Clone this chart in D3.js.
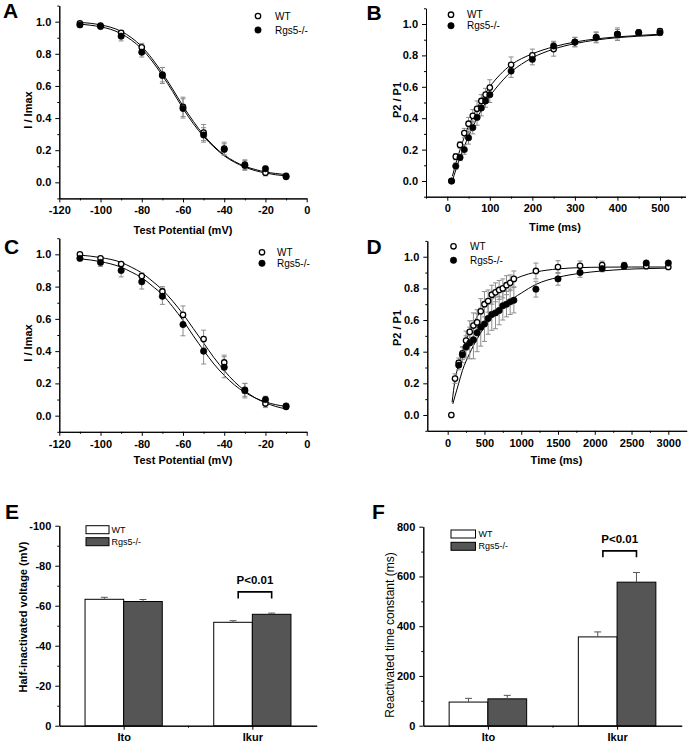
<!DOCTYPE html>
<html><head><meta charset="utf-8">
<script src="https://cdn.jsdelivr.net/npm/d3@7"></script>
<style>body{margin:0;background:#fff} svg text{font-family:"Liberation Sans",Arial,sans-serif;fill:#000}</style>
</head><body><svg id="c" width="689" height="745"></svg>
<script>
// ---------- DATA ----------
const seriesNames = ["WT", "Rgs5-/-"];
// Panel A (Ito steady-state inactivation)
const voltages = [-110,-100,-90,-80,-70,-60,-50,-40,-30,-20,-10];
const aWT    = [0.99,0.975,0.93,0.84,0.67,0.47,0.31,0.21,0.11,0.06,0.04];
const aWTerr = [0.01,0.01,0.015,0.025,0.045,0.06,0.05,0.04,0.03,0.02,0.01];
const aKO    = [0.98,0.97,0.91,0.81,0.665,0.46,0.295,0.205,0.105,0.085,0.035];
const aKOerr = [0.01,0.01,0.03,0.03,0.05,0.06,0.045,0.035,0.03,0.015,0.01];
const aFitWT = [[-110,0.995],[-105,0.99],[-100,0.98],[-95,0.965],[-90,0.94],[-85,0.9],[-80,0.845],[-75,0.77],[-70,0.68],[-65,0.58],[-60,0.475],[-55,0.38],[-50,0.295],[-45,0.225],[-40,0.17],[-35,0.13],[-30,0.1],[-25,0.08],[-20,0.065],[-15,0.055],[-10,0.048]];
const aFitKO = [[-110,0.985],[-105,0.978],[-100,0.968],[-95,0.952],[-90,0.925],[-85,0.885],[-80,0.83],[-75,0.755],[-70,0.665],[-65,0.565],[-60,0.46],[-55,0.365],[-50,0.285],[-45,0.22],[-40,0.165],[-35,0.125],[-30,0.095],[-25,0.073],[-20,0.058],[-15,0.047],[-10,0.04]];
// Panel B (Ito recovery)
const bTimes = [10,20,30,40,50,60,70,80,90,100,150,200,250,300,350,400,450,500];
const bWT    = [0.0,0.155,0.23,0.305,0.365,0.415,0.46,0.51,0.55,0.595,0.74,0.8,0.84,0.885,0.915,0.935,0.945,0.955];
const bWTerr = [0.01,0.02,0.02,0.03,0.04,0.04,0.05,0.04,0.04,0.05,0.05,0.04,0.045,0.03,0.03,0.04,0.02,0.015];
const bKO    = [0.0,0.095,0.15,0.2,0.275,0.34,0.405,0.465,0.51,0.55,0.7,0.775,0.86,0.885,0.915,0.935,0.945,0.945];
const bKOerr = [0.01,0.02,0.02,0.03,0.04,0.04,0.05,0.05,0.04,0.05,0.04,0.035,0.03,0.03,0.035,0.03,0.015,0.015];
const bFitWT = [[12,0.03],[20,0.11],[30,0.2],[40,0.28],[50,0.35],[60,0.41],[70,0.465],[80,0.515],[90,0.56],[100,0.6],[125,0.68],[150,0.74],[175,0.78],[200,0.81],[250,0.855],[300,0.885],[350,0.905],[400,0.918],[450,0.927],[500,0.935]];
const bFitKO = [[12,0.0],[20,0.07],[30,0.15],[40,0.22],[50,0.285],[60,0.345],[70,0.4],[80,0.45],[90,0.5],[100,0.54],[125,0.625],[150,0.695],[175,0.745],[200,0.785],[250,0.84],[300,0.875],[350,0.898],[400,0.913],[450,0.922],[500,0.93]];
// Panel C (Ikur steady-state inactivation)
const cWT    = [1.0,0.975,0.94,0.865,0.77,0.625,0.475,0.33,0.16,0.075,0.055];
const cWTerr = [0.01,0.01,0.01,0.02,0.03,0.055,0.055,0.045,0.04,0.025,0.015];
const cKO    = [0.975,0.95,0.9,0.83,0.74,0.565,0.4,0.3,0.155,0.1,0.06];
const cKOerr = [0.015,0.025,0.04,0.045,0.05,0.07,0.08,0.065,0.045,0.02,0.01];
const cFitWT = [[-110,0.995],[-100,0.98],[-90,0.95],[-85,0.92],[-80,0.885],[-75,0.835],[-70,0.78],[-65,0.71],[-60,0.63],[-55,0.54],[-50,0.45],[-45,0.36],[-40,0.28],[-35,0.21],[-30,0.155],[-25,0.11],[-20,0.08],[-15,0.057],[-10,0.042]];
const cFitKO = [[-110,0.972],[-100,0.955],[-90,0.92],[-85,0.89],[-80,0.855],[-75,0.805],[-70,0.75],[-65,0.675],[-60,0.59],[-55,0.495],[-50,0.405],[-45,0.32],[-40,0.25],[-35,0.19],[-30,0.145],[-25,0.11],[-20,0.085],[-15,0.068],[-10,0.057]];
// Panel D (Ikur recovery)
const dWTt   = [50,100,150,200,250,300,350,400,450,500,550,600,650,700,750,800,850,900,1200,1500,1800,2100,2400,2700,3000];
const dWT    = [0.0,0.23,0.33,0.39,0.47,0.525,0.565,0.585,0.655,0.7,0.72,0.76,0.775,0.79,0.8,0.82,0.835,0.86,0.91,0.935,0.943,0.947,0.945,0.94,0.935];
const dWTerr = [0,0.03,0.03,0.04,0.06,0.07,0.08,0.08,0.08,0.08,0.07,0.06,0.06,0.06,0.06,0.06,0.05,0.05,0.05,0.04,0.03,0.025,0.02,0.015,0.01];
const dKOt   = [150,200,250,300,350,400,450,500,550,600,650,700,750,800,850,900,1200,1500,1800,2100,2400,2700,3000];
const dKO    = [0.315,0.38,0.43,0.455,0.475,0.52,0.555,0.575,0.61,0.635,0.645,0.66,0.69,0.7,0.715,0.725,0.795,0.86,0.9,0.925,0.94,0.96,0.96];
const dKOerr = [0.03,0.05,0.07,0.1,0.12,0.12,0.12,0.11,0.1,0.1,0.1,0.09,0.09,0.08,0.08,0.08,0.05,0.04,0.03,0.02,0.015,0.01,0.01];
const dFitWT = [[60,0.08],[100,0.22],[150,0.32],[200,0.4],[250,0.47],[300,0.53],[400,0.62],[500,0.69],[600,0.745],[700,0.79],[800,0.825],[900,0.856],[1000,0.876],[1200,0.903],[1500,0.923],[1800,0.931],[2100,0.934],[2500,0.935],[3000,0.935]];
const dFitKO = [[70,0.07],[100,0.12],[150,0.2],[200,0.28],[300,0.39],[400,0.48],[500,0.555],[600,0.615],[700,0.665],[800,0.705],[900,0.74],[1000,0.77],[1200,0.825],[1500,0.87],[1800,0.895],[2100,0.91],[2400,0.92],[2700,0.925],[3000,0.928]];
// Panels E, F (bar charts)
const categories = ["Ito","Ikur"];
const eWT = [-63.2,-51.7], eWTerr = [1.0,0.8];
const eKO = [-62.1,-55.7], eKOerr = [1.0,0.6];
const fWT = [95,357], fWTerr = [15,20];
const fKO = [108,577], fKOerr = [14,39];
const pLabel = "P<0.01";

// ---------- DRAW ----------
const svg = d3.select("#c");
svg.append("rect").attr("width",689).attr("height",745).attr("fill","#fff");
const FONT = '"Liberation Sans",Arial,sans-serif';
const range = (a,b,s) => d3.range(a, b + s/2, s);

function styleAxis(sel, bold) {
  sel.select(".domain").attr("stroke","#000").attr("stroke-width",1);
  sel.selectAll(".tick line").attr("stroke","#000").attr("stroke-width",1);
  sel.selectAll("text").attr("font-size","11px").attr("font-weight","bold").attr("font-family",FONT).attr("fill","#000");
}

function axes(g, x, y, o) {
  const yB = o.yRange[0], xL = o.xRange[0];
  const xm = g.append("g").attr("transform",`translate(0,${yB})`)
    .call(d3.axisBottom(x).tickValues(o.xMinor).tickSize(2).tickFormat("").tickSizeOuter(0));
  styleAxis(xm);
  const xa = g.append("g").attr("transform",`translate(0,${yB})`)
    .call(d3.axisBottom(x).tickValues(o.xMajor).tickSize(4).tickPadding(4).tickFormat(o.xFmt).tickSizeOuter(0));
  styleAxis(xa);
  const ym = g.append("g").attr("transform",`translate(${xL},0)`)
    .call(d3.axisLeft(y).tickValues(o.yMinor).tickSize(2).tickFormat("").tickSizeOuter(0));
  styleAxis(ym);
  const ya = g.append("g").attr("transform",`translate(${xL},0)`)
    .call(d3.axisLeft(y).tickValues(o.yMajor).tickSize(4).tickPadding(4).tickFormat(o.yFmt).tickSizeOuter(0));
  styleAxis(ya);
}

function titles(g, o) {
  g.append("text").attr("x",o.label[1]).attr("y",o.label[2]).text(o.label[0])
    .attr("font-size","21px").attr("font-weight","bold");
  if (o.xTitle) g.append("text").attr("x",o.xTitle[1]).attr("y",o.xTitle[2]).attr("text-anchor","middle")
    .attr("font-size","11px").attr("font-weight","bold").text(o.xTitle[0]);
  g.append("text").attr("transform",`translate(${o.yTitle[1]},${o.yTitle[2]}) rotate(-90)`)
    .attr("text-anchor","middle").attr("dy","0.35em")
    .attr("font-size",o.yTitleSize || "11px").attr("font-weight",o.yTitleWeight || "bold").text(o.yTitle[0]);
}

function scatterPanel(o) {
  const g = svg.append("g");
  const x = d3.scaleLinear().domain(o.xDom).range(o.xRange);
  const y = d3.scaleLinear().domain([-0.1,1.1]).range(o.yRange);
  axes(g, x, y, Object.assign({yMajor: range(0,1,0.2), yMinor: range(-0.1,1.1,0.2), yFmt: d => d.toFixed(1)}, o));
  const line = d3.line().x(d => x(d[0])).y(d => y(d[1])).curve(d3.curveMonotoneX);
  o.curves.forEach(c => g.append("path").attr("d", line(c)).attr("fill","none").attr("stroke","#000").attr("stroke-width",1));
  o.series.forEach(s => {
    const pts = s.x.map((xv,i) => ({x: xv, y: s.y[i], e: s.e[i]}));
    const eb = g.append("g").attr("stroke","#8c8c8c").attr("stroke-width",1);
    pts.filter(p => p.e > 0).forEach(p => {
      const cx = x(p.x);
      eb.append("line").attr("x1",cx).attr("x2",cx).attr("y1",y(p.y - p.e)).attr("y2",y(p.y + p.e));
      [p.y - p.e, p.y + p.e].forEach(v => eb.append("line").attr("x1",cx-2.5).attr("x2",cx+2.5).attr("y1",y(v)).attr("y2",y(v)));
    });
  });
  o.series.forEach(s => {
    g.append("g").selectAll("circle").data(s.x.map((xv,i) => [xv, s.y[i]])).join("circle")
      .attr("cx", d => x(d[0])).attr("cy", d => y(d[1]))
      .attr("r", s.filled ? 3.2 : 2.7)
      .attr("fill", s.filled ? "#000" : "#fff").attr("stroke","#000").attr("stroke-width", s.filled ? 0.6 : 1.3);
  });
  // legend
  seriesNames.forEach((n,i) => {
    const ly = o.legend[1] + i * o.legend[3];
    g.append("circle").attr("cx",o.legend[0]).attr("cy",ly).attr("r", i ? 3.2 : 2.7)
      .attr("fill", i ? "#000" : "#fff").attr("stroke","#000").attr("stroke-width", i ? 0.6 : 1.3);
    g.append("text").attr("x",o.legend[2]).attr("y",ly).attr("dy","0.35em").attr("font-size","10px").text(n);
  });
  titles(g, o);
}

const intFmt = d => String(d);

scatterPanel({
  xDom:[-120,0], xRange:[59.3,306.7], yRange:[198.4,5.6],
  xMajor: range(-120,0,20), xMinor: range(-110,-10,20), xFmt: intFmt,
  curves:[aFitWT, aFitKO],
  series:[{x:voltages,y:aWT,e:aWTerr,filled:false},{x:voltages,y:aKO,e:aKOerr,filled:true}],
  legend:[258,16,275,14], label:["A",3,18], xTitle:["Test Potential (mV)",183,234], yTitle:["I / Imax",28,110]
});
scatterPanel({
  xDom:[-50,560], xRange:[426,685.5], yRange:[196.7,8.3],
  xMajor: range(0,500,100), xMinor: range(-50,550,100), xFmt: intFmt,
  curves:[bFitWT, bFitKO],
  series:[{x:bTimes,y:bWT,e:bWTerr,filled:false},{x:bTimes,y:bKO,e:bKOerr,filled:true}],
  legend:[451,14.7,467,11], label:["B",366.5,20], xTitle:["Time (ms)",555,231], yTitle:["P2 / P1",397,100]
});
scatterPanel({
  xDom:[-120,0], xRange:[59.3,306.7], yRange:[431.8,238.2],
  xMajor: range(-120,0,20), xMinor: range(-110,-10,20), xFmt: intFmt,
  curves:[cFitWT, cFitKO],
  series:[{x:voltages,y:cWT,e:cWTerr,filled:false},{x:voltages,y:cKO,e:cKOerr,filled:true}],
  legend:[262,252.3,277,11], label:["C",4,253.5], xTitle:["Test Potential (mV)",183,464], yTitle:["I / Imax",28,343]
});
scatterPanel({
  xDom:[-277,3250], xRange:[427.3,686.7], yRange:[430.8,240.9],
  xMajor: range(0,3000,500), xMinor: range(250,2750,500), xFmt: intFmt,
  curves:[dFitWT, dFitKO],
  series:[{x:dWTt,y:dWT,e:dWTerr,filled:false},{x:dKOt,y:dKO,e:dKOerr,filled:true}],
  legend:[453.5,246.3,470,14], label:["D",366.5,253.5], xTitle:["Time (ms)",556.5,464], yTitle:["P2 / P1",397,328]
});

function barPanel(o) {
  const g = svg.append("g");
  const x = d3.scaleLinear().domain([0.5,2.5]).range(o.xRange);
  const y = d3.scaleLinear().domain(o.yDom).range(o.yRange);
  axes(g, x, y, Object.assign({xMajor:[1,2], xMinor:[1.5], xFmt: d => categories[d-1]}, o));
  const bw = 0.3;
  const groups = [{v:o.wt, e:o.wtErr, fill:"#fff", off:-bw}, {v:o.ko, e:o.koErr, fill:"#555", off:0}];
  groups.forEach(s => {
    s.v.forEach((v,i) => {
      const pos = i + 1;
      const x0 = x(pos + s.off), x1 = x(pos + s.off + bw);
      const top = Math.min(y(0), y(v));
      g.append("rect").attr("x",x0).attr("y",top).attr("width",x1-x0).attr("height",Math.abs(y(0)-y(v)))
        .attr("fill",s.fill).attr("stroke","#000").attr("stroke-width",1);
      const cx = (x0 + x1)/2, vt = v + Math.sign(v) * s.e[i];
      g.append("line").attr("x1",cx).attr("x2",cx).attr("y1",y(v)).attr("y2",y(vt)).attr("stroke","#555").attr("stroke-width",1);
      g.append("line").attr("x1",cx-3.5).attr("x2",cx+3.5).attr("y1",y(vt)).attr("y2",y(vt)).attr("stroke","#555").attr("stroke-width",1);
    });
  });
  // significance bracket on Ikur
  const bx0 = x(2 - 0.11), bx1 = x(2 + 0.15);
  g.append("path").attr("d",`M${bx0},${y(o.br[1])}V${y(o.br[0])}H${bx1}V${y(o.br[1])}`)
    .attr("fill","none").attr("stroke","#000").attr("stroke-width",1.6);
  g.append("text").attr("x",(bx0+bx1)/2).attr("y",y(o.br[2])).attr("dy","0.35em").attr("text-anchor","middle")
    .attr("font-size","11.5px").attr("font-weight","bold").text(pLabel);
  // legend
  [["#fff"],["#555"]].forEach((c,i) => {
    const ly = o.legend[1] + i * o.legend[3];
    g.append("rect").attr("x",o.legend[0]).attr("y",ly).attr("width",o.legend[4]).attr("height",8)
      .attr("fill",c[0]).attr("stroke","#000").attr("stroke-width",1);
    g.append("text").attr("x",o.legend[2]).attr("y",ly+4).attr("dy","0.35em").attr("font-size","9px").text(seriesNames[i]);
  });
  titles(g, o);
}

barPanel({
  xRange:[59.3,316.7], yDom:[0,-100], yRange:[725.7,525.7],
  yMajor: range(-100,0,20), yMinor: range(-90,-10,20), yFmt: intFmt,
  wt:eWT, wtErr:eWTerr, ko:eKO, koErr:eKOerr, br:[-66.9,-63.6,-73],
  legend:[86,525.7,111.5,12,23], label:["E",5,518.5], yTitle:["Half-inactivated voltage (mV)",23,617]
});
barPanel({
  xRange:[423.3,681.7], yDom:[0,800], yRange:[725.7,526.7],
  yMajor: range(0,800,200), yMinor: range(100,700,200), yFmt: intFmt,
  wt:fWT, wtErr:fWTerr, ko:fKO, koErr:fKOerr, br:[703,677,750],
  legend:[451,530,478.5,12.3,24.5], label:["F",372,518.5], yTitle:["Reactivated time constant (ms)",390,635],
  yTitleSize:"12px", yTitleWeight:"normal"
});
</script>
</body></html>
